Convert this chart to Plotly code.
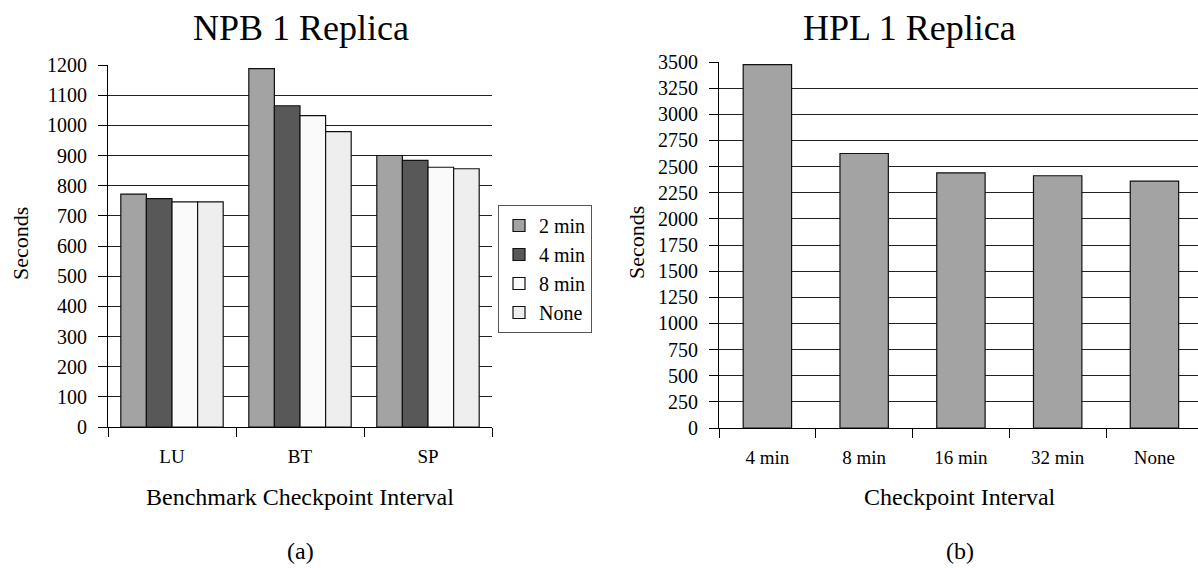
import plotly.graph_objects as go

W, H = 1198, 568

# Left chart data
npb_categories = ["LU", "BT", "SP"]
npb_series = ["2 min", "4 min", "8 min", "None"]
npb_2min = [772, 1188, 900]
npb_4min = [757, 1065, 884]
npb_8min = [746, 1032, 861]
npb_none = [746, 979, 856]
npb_colors = ["#a3a3a3", "#585858", "#fafafa", "#eeeeee"]
npb_ticks = [0, 100, 200, 300, 400, 500, 600, 700, 800, 900, 1000, 1100, 1200]

# Right chart data
hpl_categories = ["4 min", "8 min", "16 min", "32 min", "None"]
hpl_values = [3474, 2625, 2440, 2412, 2361]
hpl_ticks = [0, 250, 500, 750, 1000, 1250, 1500, 1750, 2000, 2250, 2500, 2750, 3000, 3250, 3500]

FONT = "Liberation Serif, Times New Roman, serif"

fig = go.Figure()
for name, vals, col in zip(npb_series, [npb_2min, npb_4min, npb_8min, npb_none], npb_colors):
    fig.add_trace(go.Bar(x=npb_categories, y=vals, name=name, marker=dict(color=col, line=dict(color="#111", width=1.2)),
                         xaxis="x", yaxis="y"))

fig.add_trace(go.Bar(x=hpl_categories, y=hpl_values, name="HPL", showlegend=False,
                     marker=dict(color="#a3a3a3", line=dict(color="#111", width=1.2)),
                     xaxis="x2", yaxis="y2", width=0.5))

def px_x(p):
    return p / W

def px_y(p):
    return 1 - p / H

axis_common = dict(showline=True, linecolor="black", linewidth=1.2, ticks="outside", tickcolor="black",
                   tickwidth=1.2, automargin=False, mirror=False)
xfont = dict(family=FONT, size=19, color="black")
yfont = dict(family=FONT, size=20, color="black")

fig.update_layout(
    width=W, height=H,
    margin=dict(l=0, r=0, t=0, b=0),
    paper_bgcolor="white", plot_bgcolor="white",
    font=dict(family=FONT, color="black"),
    barmode="group", bargap=0.2, bargroupgap=0,
    xaxis=dict(domain=[px_x(108), px_x(492)], anchor="y", type="category", tickson="boundaries",
               ticklen=9, showgrid=False, tickfont=xfont, ticklabelstandoff=12, **axis_common),
    yaxis=dict(domain=[px_y(427), px_y(65)], anchor="x", range=[0, 1200], tickvals=npb_ticks,
               ticklen=9, showgrid=True, gridcolor="#222", gridwidth=1.3, zeroline=False,
               tickfont=yfont, ticklabelstandoff=7, **axis_common),
    xaxis2=dict(domain=[px_x(719), 1.0], anchor="y2", type="category", tickson="boundaries",
                range=[-0.5, 4.45], ticklen=9, showgrid=False, tickfont=xfont, ticklabelstandoff=12,
                **axis_common),
    yaxis2=dict(domain=[px_y(428), px_y(62)], anchor="x2", range=[0, 3500], tickvals=hpl_ticks,
                ticklen=9, showgrid=True, gridcolor="#222", gridwidth=1.3, zeroline=False,
                tickfont=yfont, ticklabelstandoff=7, **axis_common),
    legend=dict(x=px_x(498), y=px_y(205), xanchor="left", yanchor="top",
                bordercolor="#555", borderwidth=1, bgcolor="white",
                font=dict(family=FONT, size=20, color="black"), tracegroupgap=0,
                itemwidth=30),
)

def ann(text, x, y, size, angle=0):
    fig.add_annotation(text=text, x=px_x(x), y=px_y(y), xref="paper", yref="paper",
                       showarrow=False, font=dict(family=FONT, size=size, color="black"),
                       textangle=angle, xanchor="center", yanchor="middle")

ann("NPB 1 Replica", 301, 28, 36)
ann("HPL 1 Replica", 909, 28, 36)
ann("Seconds", 20, 244, 22, -90)
ann("Seconds", 636, 243, 22, -90)
ann("Benchmark Checkpoint Interval", 300, 497, 24)
ann("Checkpoint Interval", 960, 497, 24)
ann("(a)", 300, 551, 24)
ann("(b)", 960, 551, 24)

fig.write_html("out.html", config={"displayModeBar": False},
               post_script="document.body.style.margin='0';document.body.style.overflow='hidden';")
